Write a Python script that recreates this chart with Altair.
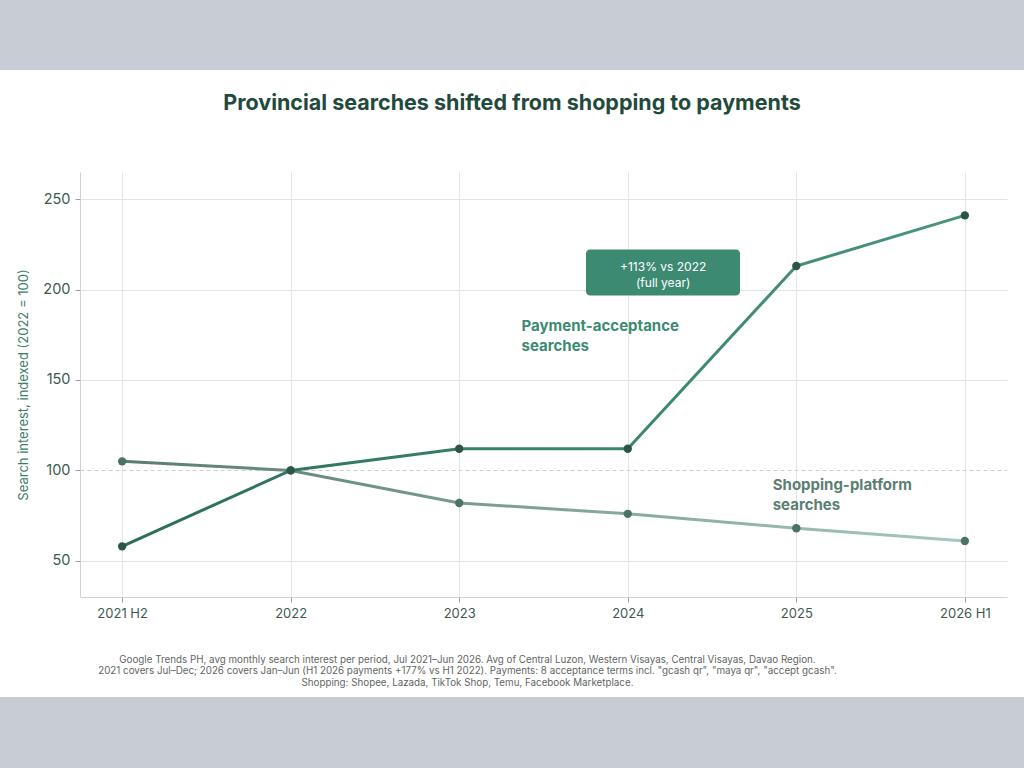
import altair as alt
import pandas as pd

# Period labels and indexed search interest (2022 = 100)
periods = ["2021 H2", "2022", "2023", "2024", "2025", "2026 H1"]
payments = [58, 100, 112, 112, 213, 241]
shopping = [105, 100, 82, 76, 68, 61]

title_text = "Provincial searches shifted from shopping to payments"

# Series labels placed beside the lines
label_text = ["Payment-acceptance", "searches", "Shopping-platform", "searches"]
label_x = [2.37, 2.37, 3.86, 3.86]
label_y = [180, 169, 92.2, 81.1]
label_series = ["Payments", "Payments", "Shopping", "Shopping"]

# Callout box for the 2025 payments jump
callout_lines = ["+113% vs 2022", "(full year)"]
callout_line_y = [212.6, 203.7]
callout_x = 3.21
callout_box = {"x": 2.752, "x2": 3.666, "y": 222.2, "y2": 196.7}

footer = [
    "Google Trends PH, avg monthly search interest per period, Jul 2021\u2013Jun 2026. Avg of Central Luzon, Western Visayas, Central Visayas, Davao Region.",
    "2021 covers Jul\u2013Dec; 2026 covers Jan\u2013Jun (H1 2026 payments +177% vs H1 2022). Payments: 8 acceptance terms incl. \"gcash qr\", \"maya qr\", \"accept gcash\".",
    "Shopping: Shopee, Lazada, TikTok Shop, Temu, Facebook Marketplace.",
]

FONT = "Inter"
PAY = "#3d8a72"
SHOP = "#5b7f72"

idx = list(range(len(periods)))
pay_df = pd.DataFrame({"i": idx, "period": periods, "value": payments})
shop_df = pd.DataFrame({"i": idx, "period": periods, "value": shopping})
labels_df = pd.DataFrame({"x": label_x, "y": label_y, "text": label_text, "series": label_series})
callout_df = pd.DataFrame({"x": [callout_x] * len(callout_lines), "y": callout_line_y, "text": callout_lines})
box_df = pd.DataFrame([callout_box])
one = pd.DataFrame({"k": [0]})
title_df = pd.DataFrame({"text": [title_text]})

label_expr = "[" + ",".join(f"'{p}'" for p in periods) + "][datum.value]"

x_scale = alt.Scale(domain=[-0.25, len(periods) - 0.75], nice=False, zero=False)
y_scale = alt.Scale(domain=[30, 265], nice=False, zero=False)

x_axis = alt.Axis(
    values=idx,
    labelExpr=label_expr,
    title=footer,
    titleFont=FONT,
    titleFontSize=9.8,
    titleFontWeight="normal",
    titleColor="#5f6663",
    titleLineHeight=11.5,
    titleAlign="center",
    titleBaseline="top",
    titleX=387,
    titleY=57,
    labelFont=FONT,
    labelFontSize=13,
    labelColor="#3d5a50",
    labelPadding=5,
    tickColor="#9aa29f",
    tickSize=5,
    domainColor="#d0d0d0",
    gridColor="#e4e4e4",
)

y_axis = alt.Axis(
    values=[50, 100, 150, 200, 250],
    title="Search interest, indexed (2022 = 100)",
    titleFont=FONT,
    titleFontSize=13,
    titleFontWeight="normal",
    titleColor="#3e7d6a",
    titlePadding=12,
    labelFont=FONT,
    labelFontSize=14.5,
    labelColor="#3d5a50",
    labelPadding=5,
    tickColor="#9aa29f",
    tickSize=5,
    domainColor="#d0d0d0",
    gridColor={"condition": {"test": "datum.value === 100", "value": "#cfcfcf"}, "value": "#e4e4e4"},
    gridDash={"condition": {"test": "datum.value === 100", "value": [4, 3]}, "value": []},
)

def gradient(c0, c1):
    return alt.Gradient(
        gradient="linear",
        stops=[alt.GradientStop(color=c0, offset=0), alt.GradientStop(color=c1, offset=1)],
        x1=0, x2=1, y1=0, y2=0,
    )

# Grey bands above and below the white panel
bands = alt.Chart(one).mark_rect(color="#c8ccd5").encode(
    x=alt.value(-80), x2=alt.value(944), y=alt.value(-172), y2=alt.value(-102)
)
bands_bottom = alt.Chart(one).mark_rect(color="#c8ccd5").encode(
    x=alt.value(-80), x2=alt.value(944), y=alt.value(525), y2=alt.value(596)
)

# Headline, centred on the page
title = alt.Chart(title_df).mark_text(
    font=FONT, fontSize=21.5, fontWeight="bold", color="#1f4a3c",
    align="center", baseline="middle",
).encode(x=alt.value(432), y=alt.value(-68), text="text:N")

shop_line = alt.Chart(shop_df).mark_line(
    strokeWidth=3, color=gradient("#5a7c70", "#a6c9bb")
).encode(
    x=alt.X("i:Q", scale=x_scale, axis=x_axis),
    y=alt.Y("value:Q", scale=y_scale, axis=y_axis),
)
shop_pts = alt.Chart(shop_df).mark_circle(size=70, opacity=1, color="#4b7266").encode(
    x="i:Q", y="value:Q"
)

pay_line = alt.Chart(pay_df).mark_line(
    strokeWidth=3, color=gradient("#2a6e58", "#4a9580")
).encode(x="i:Q", y="value:Q")
pay_pts = alt.Chart(pay_df).mark_circle(size=70, opacity=1, color="#2b5548").encode(
    x="i:Q", y="value:Q"
)

labels = alt.Chart(labels_df).mark_text(
    font=FONT, fontSize=15, fontWeight="bold", align="left", baseline="middle"
).encode(
    x="x:Q", y="y:Q", text="text:N",
    color=alt.Color("series:N", scale=alt.Scale(domain=["Payments", "Shopping"], range=[PAY, SHOP]), legend=None),
)

box = alt.Chart(box_df).mark_rect(color=PAY, cornerRadius=4).encode(
    x="x:Q", x2="x2:Q", y="y:Q", y2="y2:Q"
)
callout = alt.Chart(callout_df).mark_text(
    font=FONT, fontSize=12, color="white", align="center", baseline="middle"
).encode(x="x:Q", y="y:Q", text="text:N")

chart = alt.layer(
    bands, bands_bottom, title, shop_line, pay_line, shop_pts, pay_pts, labels, box, callout
).properties(
    width=927,
    height=425,
    padding={"left": 80, "top": 172, "right": 17, "bottom": 171},
    autosize=alt.AutoSizeParams(type="none"),
    background="white",
).configure_view(stroke=None)

chart.save("out.html", embed_options={"renderer": "svg", "actions": False})
